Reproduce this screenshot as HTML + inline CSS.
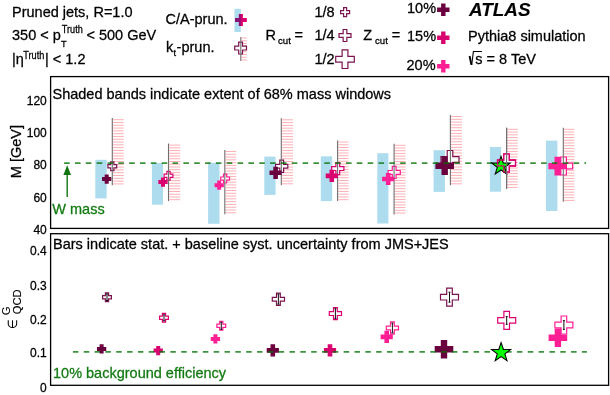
<!DOCTYPE html>
<html><head><meta charset="utf-8"><style>
html,body{margin:0;padding:0;background:#fff;}
body{width:610px;height:395px;overflow:hidden;position:relative;}
svg{position:absolute;left:0;top:0;will-change:transform;}
text{font-family:"Liberation Sans",sans-serif;stroke:currentColor;stroke-width:0.28px;}
</style></head><body>
<svg width="610" height="395" viewBox="0 0 610 395">
<rect x="95.30" y="159.80" width="11.40" height="38.60" fill="#addcee"/>
<g stroke="#ffb0b6" stroke-width="1"><line x1="112.80" y1="119.70" x2="123.70" y2="119.70"/><line x1="112.80" y1="122.49" x2="123.70" y2="122.49"/><line x1="112.80" y1="125.28" x2="123.70" y2="125.28"/><line x1="112.80" y1="128.07" x2="123.70" y2="128.07"/><line x1="112.80" y1="130.87" x2="123.70" y2="130.87"/><line x1="112.80" y1="133.66" x2="123.70" y2="133.66"/><line x1="112.80" y1="136.45" x2="123.70" y2="136.45"/><line x1="112.80" y1="139.24" x2="123.70" y2="139.24"/><line x1="112.80" y1="142.03" x2="123.70" y2="142.03"/><line x1="112.80" y1="144.82" x2="123.70" y2="144.82"/><line x1="112.80" y1="147.61" x2="123.70" y2="147.61"/><line x1="112.80" y1="150.40" x2="123.70" y2="150.40"/><line x1="112.80" y1="153.20" x2="123.70" y2="153.20"/><line x1="112.80" y1="155.99" x2="123.70" y2="155.99"/><line x1="112.80" y1="158.78" x2="123.70" y2="158.78"/><line x1="112.80" y1="161.57" x2="123.70" y2="161.57"/><line x1="112.80" y1="164.36" x2="123.70" y2="164.36"/><line x1="112.80" y1="167.15" x2="123.70" y2="167.15"/><line x1="112.80" y1="169.94" x2="123.70" y2="169.94"/><line x1="112.80" y1="172.73" x2="123.70" y2="172.73"/><line x1="112.80" y1="175.53" x2="123.70" y2="175.53"/><line x1="112.80" y1="178.32" x2="123.70" y2="178.32"/><line x1="112.80" y1="181.11" x2="123.70" y2="181.11"/><line x1="112.80" y1="183.90" x2="123.70" y2="183.90"/></g>
<rect x="151.90" y="163.10" width="11.10" height="41.60" fill="#addcee"/>
<g stroke="#ffb0b6" stroke-width="1"><line x1="169.00" y1="145.10" x2="180.30" y2="145.10"/><line x1="169.00" y1="147.83" x2="180.30" y2="147.83"/><line x1="169.00" y1="150.56" x2="180.30" y2="150.56"/><line x1="169.00" y1="153.29" x2="180.30" y2="153.29"/><line x1="169.00" y1="156.02" x2="180.30" y2="156.02"/><line x1="169.00" y1="158.75" x2="180.30" y2="158.75"/><line x1="169.00" y1="161.48" x2="180.30" y2="161.48"/><line x1="169.00" y1="164.21" x2="180.30" y2="164.21"/><line x1="169.00" y1="166.94" x2="180.30" y2="166.94"/><line x1="169.00" y1="169.67" x2="180.30" y2="169.67"/><line x1="169.00" y1="172.40" x2="180.30" y2="172.40"/><line x1="169.00" y1="175.13" x2="180.30" y2="175.13"/><line x1="169.00" y1="177.86" x2="180.30" y2="177.86"/><line x1="169.00" y1="180.59" x2="180.30" y2="180.59"/><line x1="169.00" y1="183.32" x2="180.30" y2="183.32"/><line x1="169.00" y1="186.05" x2="180.30" y2="186.05"/><line x1="169.00" y1="188.78" x2="180.30" y2="188.78"/><line x1="169.00" y1="191.51" x2="180.30" y2="191.51"/><line x1="169.00" y1="194.24" x2="180.30" y2="194.24"/><line x1="169.00" y1="196.97" x2="180.30" y2="196.97"/><line x1="169.00" y1="199.70" x2="180.30" y2="199.70"/></g>
<rect x="208.10" y="162.80" width="11.40" height="61.00" fill="#addcee"/>
<g stroke="#ffb0b6" stroke-width="1"><line x1="225.30" y1="151.50" x2="236.30" y2="151.50"/><line x1="225.30" y1="154.29" x2="236.30" y2="154.29"/><line x1="225.30" y1="157.07" x2="236.30" y2="157.07"/><line x1="225.30" y1="159.86" x2="236.30" y2="159.86"/><line x1="225.30" y1="162.65" x2="236.30" y2="162.65"/><line x1="225.30" y1="165.43" x2="236.30" y2="165.43"/><line x1="225.30" y1="168.22" x2="236.30" y2="168.22"/><line x1="225.30" y1="171.00" x2="236.30" y2="171.00"/><line x1="225.30" y1="173.79" x2="236.30" y2="173.79"/><line x1="225.30" y1="176.58" x2="236.30" y2="176.58"/><line x1="225.30" y1="179.36" x2="236.30" y2="179.36"/><line x1="225.30" y1="182.15" x2="236.30" y2="182.15"/><line x1="225.30" y1="184.94" x2="236.30" y2="184.94"/><line x1="225.30" y1="187.72" x2="236.30" y2="187.72"/><line x1="225.30" y1="190.51" x2="236.30" y2="190.51"/><line x1="225.30" y1="193.30" x2="236.30" y2="193.30"/><line x1="225.30" y1="196.08" x2="236.30" y2="196.08"/><line x1="225.30" y1="198.87" x2="236.30" y2="198.87"/><line x1="225.30" y1="201.65" x2="236.30" y2="201.65"/><line x1="225.30" y1="204.44" x2="236.30" y2="204.44"/><line x1="225.30" y1="207.23" x2="236.30" y2="207.23"/><line x1="225.30" y1="210.01" x2="236.30" y2="210.01"/><line x1="225.30" y1="212.80" x2="236.30" y2="212.80"/></g>
<rect x="264.30" y="156.60" width="11.30" height="38.30" fill="#addcee"/>
<g stroke="#ffb0b6" stroke-width="1"><line x1="281.80" y1="119.80" x2="293.00" y2="119.80"/><line x1="281.80" y1="122.58" x2="293.00" y2="122.58"/><line x1="281.80" y1="125.37" x2="293.00" y2="125.37"/><line x1="281.80" y1="128.15" x2="293.00" y2="128.15"/><line x1="281.80" y1="130.93" x2="293.00" y2="130.93"/><line x1="281.80" y1="133.71" x2="293.00" y2="133.71"/><line x1="281.80" y1="136.50" x2="293.00" y2="136.50"/><line x1="281.80" y1="139.28" x2="293.00" y2="139.28"/><line x1="281.80" y1="142.06" x2="293.00" y2="142.06"/><line x1="281.80" y1="144.84" x2="293.00" y2="144.84"/><line x1="281.80" y1="147.63" x2="293.00" y2="147.63"/><line x1="281.80" y1="150.41" x2="293.00" y2="150.41"/><line x1="281.80" y1="153.19" x2="293.00" y2="153.19"/><line x1="281.80" y1="155.97" x2="293.00" y2="155.97"/><line x1="281.80" y1="158.76" x2="293.00" y2="158.76"/><line x1="281.80" y1="161.54" x2="293.00" y2="161.54"/><line x1="281.80" y1="164.32" x2="293.00" y2="164.32"/><line x1="281.80" y1="167.10" x2="293.00" y2="167.10"/><line x1="281.80" y1="169.89" x2="293.00" y2="169.89"/><line x1="281.80" y1="172.67" x2="293.00" y2="172.67"/><line x1="281.80" y1="175.45" x2="293.00" y2="175.45"/><line x1="281.80" y1="178.23" x2="293.00" y2="178.23"/><line x1="281.80" y1="181.02" x2="293.00" y2="181.02"/><line x1="281.80" y1="183.80" x2="293.00" y2="183.80"/></g>
<rect x="320.80" y="156.30" width="11.40" height="44.80" fill="#addcee"/>
<g stroke="#ffb0b6" stroke-width="1"><line x1="338.10" y1="142.00" x2="348.60" y2="142.00"/><line x1="338.10" y1="144.75" x2="348.60" y2="144.75"/><line x1="338.10" y1="147.50" x2="348.60" y2="147.50"/><line x1="338.10" y1="150.24" x2="348.60" y2="150.24"/><line x1="338.10" y1="152.99" x2="348.60" y2="152.99"/><line x1="338.10" y1="155.74" x2="348.60" y2="155.74"/><line x1="338.10" y1="158.49" x2="348.60" y2="158.49"/><line x1="338.10" y1="161.23" x2="348.60" y2="161.23"/><line x1="338.10" y1="163.98" x2="348.60" y2="163.98"/><line x1="338.10" y1="166.73" x2="348.60" y2="166.73"/><line x1="338.10" y1="169.48" x2="348.60" y2="169.48"/><line x1="338.10" y1="172.22" x2="348.60" y2="172.22"/><line x1="338.10" y1="174.97" x2="348.60" y2="174.97"/><line x1="338.10" y1="177.72" x2="348.60" y2="177.72"/><line x1="338.10" y1="180.47" x2="348.60" y2="180.47"/><line x1="338.10" y1="183.21" x2="348.60" y2="183.21"/><line x1="338.10" y1="185.96" x2="348.60" y2="185.96"/><line x1="338.10" y1="188.71" x2="348.60" y2="188.71"/><line x1="338.10" y1="191.46" x2="348.60" y2="191.46"/><line x1="338.10" y1="194.20" x2="348.60" y2="194.20"/><line x1="338.10" y1="196.95" x2="348.60" y2="196.95"/><line x1="338.10" y1="199.70" x2="348.60" y2="199.70"/></g>
<rect x="377.30" y="153.20" width="11.10" height="70.30" fill="#addcee"/>
<g stroke="#ffb0b6" stroke-width="1"><line x1="394.60" y1="145.30" x2="405.50" y2="145.30"/><line x1="394.60" y1="148.01" x2="405.50" y2="148.01"/><line x1="394.60" y1="150.72" x2="405.50" y2="150.72"/><line x1="394.60" y1="153.42" x2="405.50" y2="153.42"/><line x1="394.60" y1="156.13" x2="405.50" y2="156.13"/><line x1="394.60" y1="158.84" x2="405.50" y2="158.84"/><line x1="394.60" y1="161.55" x2="405.50" y2="161.55"/><line x1="394.60" y1="164.26" x2="405.50" y2="164.26"/><line x1="394.60" y1="166.96" x2="405.50" y2="166.96"/><line x1="394.60" y1="169.67" x2="405.50" y2="169.67"/><line x1="394.60" y1="172.38" x2="405.50" y2="172.38"/><line x1="394.60" y1="175.09" x2="405.50" y2="175.09"/><line x1="394.60" y1="177.80" x2="405.50" y2="177.80"/><line x1="394.60" y1="180.50" x2="405.50" y2="180.50"/><line x1="394.60" y1="183.21" x2="405.50" y2="183.21"/><line x1="394.60" y1="185.92" x2="405.50" y2="185.92"/><line x1="394.60" y1="188.63" x2="405.50" y2="188.63"/><line x1="394.60" y1="191.34" x2="405.50" y2="191.34"/><line x1="394.60" y1="194.04" x2="405.50" y2="194.04"/><line x1="394.60" y1="196.75" x2="405.50" y2="196.75"/><line x1="394.60" y1="199.46" x2="405.50" y2="199.46"/><line x1="394.60" y1="202.17" x2="405.50" y2="202.17"/><line x1="394.60" y1="204.88" x2="405.50" y2="204.88"/><line x1="394.60" y1="207.58" x2="405.50" y2="207.58"/><line x1="394.60" y1="210.29" x2="405.50" y2="210.29"/><line x1="394.60" y1="213.00" x2="405.50" y2="213.00"/></g>
<rect x="433.60" y="150.20" width="11.40" height="41.70" fill="#addcee"/>
<g stroke="#ffb0b6" stroke-width="1"><line x1="450.90" y1="116.50" x2="462.00" y2="116.50"/><line x1="450.90" y1="119.30" x2="462.00" y2="119.30"/><line x1="450.90" y1="122.11" x2="462.00" y2="122.11"/><line x1="450.90" y1="124.91" x2="462.00" y2="124.91"/><line x1="450.90" y1="127.72" x2="462.00" y2="127.72"/><line x1="450.90" y1="130.52" x2="462.00" y2="130.52"/><line x1="450.90" y1="133.32" x2="462.00" y2="133.32"/><line x1="450.90" y1="136.13" x2="462.00" y2="136.13"/><line x1="450.90" y1="138.93" x2="462.00" y2="138.93"/><line x1="450.90" y1="141.74" x2="462.00" y2="141.74"/><line x1="450.90" y1="144.54" x2="462.00" y2="144.54"/><line x1="450.90" y1="147.35" x2="462.00" y2="147.35"/><line x1="450.90" y1="150.15" x2="462.00" y2="150.15"/><line x1="450.90" y1="152.95" x2="462.00" y2="152.95"/><line x1="450.90" y1="155.76" x2="462.00" y2="155.76"/><line x1="450.90" y1="158.56" x2="462.00" y2="158.56"/><line x1="450.90" y1="161.37" x2="462.00" y2="161.37"/><line x1="450.90" y1="164.17" x2="462.00" y2="164.17"/><line x1="450.90" y1="166.97" x2="462.00" y2="166.97"/><line x1="450.90" y1="169.78" x2="462.00" y2="169.78"/><line x1="450.90" y1="172.58" x2="462.00" y2="172.58"/><line x1="450.90" y1="175.39" x2="462.00" y2="175.39"/><line x1="450.90" y1="178.19" x2="462.00" y2="178.19"/><line x1="450.90" y1="181.00" x2="462.00" y2="181.00"/><line x1="450.90" y1="183.80" x2="462.00" y2="183.80"/></g>
<rect x="489.90" y="147.00" width="11.20" height="44.70" fill="#addcee"/>
<g stroke="#ffb0b6" stroke-width="1"><line x1="507.10" y1="129.30" x2="517.80" y2="129.30"/><line x1="507.10" y1="132.07" x2="517.80" y2="132.07"/><line x1="507.10" y1="134.83" x2="517.80" y2="134.83"/><line x1="507.10" y1="137.60" x2="517.80" y2="137.60"/><line x1="507.10" y1="140.37" x2="517.80" y2="140.37"/><line x1="507.10" y1="143.13" x2="517.80" y2="143.13"/><line x1="507.10" y1="145.90" x2="517.80" y2="145.90"/><line x1="507.10" y1="148.67" x2="517.80" y2="148.67"/><line x1="507.10" y1="151.43" x2="517.80" y2="151.43"/><line x1="507.10" y1="154.20" x2="517.80" y2="154.20"/><line x1="507.10" y1="156.97" x2="517.80" y2="156.97"/><line x1="507.10" y1="159.73" x2="517.80" y2="159.73"/><line x1="507.10" y1="162.50" x2="517.80" y2="162.50"/><line x1="507.10" y1="165.27" x2="517.80" y2="165.27"/><line x1="507.10" y1="168.03" x2="517.80" y2="168.03"/><line x1="507.10" y1="170.80" x2="517.80" y2="170.80"/><line x1="507.10" y1="173.57" x2="517.80" y2="173.57"/><line x1="507.10" y1="176.33" x2="517.80" y2="176.33"/><line x1="507.10" y1="179.10" x2="517.80" y2="179.10"/><line x1="507.10" y1="181.87" x2="517.80" y2="181.87"/><line x1="507.10" y1="184.63" x2="517.80" y2="184.63"/><line x1="507.10" y1="187.40" x2="517.80" y2="187.40"/></g>
<rect x="546.00" y="140.60" width="11.40" height="70.40" fill="#addcee"/>
<g stroke="#ffb0b6" stroke-width="1"><line x1="563.80" y1="129.30" x2="574.40" y2="129.30"/><line x1="563.80" y1="132.03" x2="574.40" y2="132.03"/><line x1="563.80" y1="134.77" x2="574.40" y2="134.77"/><line x1="563.80" y1="137.50" x2="574.40" y2="137.50"/><line x1="563.80" y1="140.24" x2="574.40" y2="140.24"/><line x1="563.80" y1="142.97" x2="574.40" y2="142.97"/><line x1="563.80" y1="145.71" x2="574.40" y2="145.71"/><line x1="563.80" y1="148.44" x2="574.40" y2="148.44"/><line x1="563.80" y1="151.18" x2="574.40" y2="151.18"/><line x1="563.80" y1="153.91" x2="574.40" y2="153.91"/><line x1="563.80" y1="156.65" x2="574.40" y2="156.65"/><line x1="563.80" y1="159.38" x2="574.40" y2="159.38"/><line x1="563.80" y1="162.12" x2="574.40" y2="162.12"/><line x1="563.80" y1="164.85" x2="574.40" y2="164.85"/><line x1="563.80" y1="167.58" x2="574.40" y2="167.58"/><line x1="563.80" y1="170.32" x2="574.40" y2="170.32"/><line x1="563.80" y1="173.05" x2="574.40" y2="173.05"/><line x1="563.80" y1="175.79" x2="574.40" y2="175.79"/><line x1="563.80" y1="178.52" x2="574.40" y2="178.52"/><line x1="563.80" y1="181.26" x2="574.40" y2="181.26"/><line x1="563.80" y1="183.99" x2="574.40" y2="183.99"/><line x1="563.80" y1="186.73" x2="574.40" y2="186.73"/><line x1="563.80" y1="189.46" x2="574.40" y2="189.46"/><line x1="563.80" y1="192.20" x2="574.40" y2="192.20"/><line x1="563.80" y1="194.93" x2="574.40" y2="194.93"/><line x1="563.80" y1="197.67" x2="574.40" y2="197.67"/><line x1="563.80" y1="200.40" x2="574.40" y2="200.40"/></g>
<polygon points="110.70,161.80 113.90,161.80 113.90,164.60 116.70,164.60 116.70,167.80 113.90,167.80 113.90,170.60 110.70,170.60 110.70,167.80 107.90,167.80 107.90,164.60 110.70,164.60" fill="rgba(255,255,255,0.85)" stroke="#7a1350" stroke-width="1.20" stroke-linejoin="miter"/>
<line x1="112.30" y1="118.10" x2="112.30" y2="185.30" stroke="#707070" stroke-width="1.1"/>
<polygon points="104.70,174.45 108.70,174.45 108.70,177.10 111.35,177.10 111.35,181.10 108.70,181.10 108.70,183.75 104.70,183.75 104.70,181.10 102.05,181.10 102.05,177.10 104.70,177.10" fill="#6a003e"/>
<polygon points="166.90,171.40 170.10,171.40 170.10,174.20 172.90,174.20 172.90,177.40 170.10,177.40 170.10,180.20 166.90,180.20 166.90,177.40 164.10,177.40 164.10,174.20 166.90,174.20" fill="rgba(255,255,255,0.85)" stroke="#d9036f" stroke-width="1.20" stroke-linejoin="miter"/>
<line x1="168.50" y1="143.50" x2="168.50" y2="201.10" stroke="#707070" stroke-width="1.1"/>
<polygon points="161.00,177.45 165.00,177.45 165.00,180.10 167.65,180.10 167.65,184.10 165.00,184.10 165.00,186.75 161.00,186.75 161.00,184.10 158.35,184.10 158.35,180.10 161.00,180.10" fill="#d9036f"/>
<polygon points="223.50,174.20 226.70,174.20 226.70,177.00 229.50,177.00 229.50,180.20 226.70,180.20 226.70,183.00 223.50,183.00 223.50,180.20 220.70,180.20 220.70,177.00 223.50,177.00" fill="rgba(255,255,255,0.85)" stroke="#ff1f95" stroke-width="1.20" stroke-linejoin="miter"/>
<line x1="224.80" y1="149.90" x2="224.80" y2="214.20" stroke="#707070" stroke-width="1.1"/>
<polygon points="217.20,180.55 221.20,180.55 221.20,183.20 223.85,183.20 223.85,187.20 221.20,187.20 221.20,189.85 217.20,189.85 217.20,187.20 214.55,187.20 214.55,183.20 217.20,183.20" fill="#ff1f95"/>
<polygon points="279.80,160.10 283.60,160.10 283.60,164.30 287.80,164.30 287.80,168.10 283.60,168.10 283.60,172.30 279.80,172.30 279.80,168.10 275.60,168.10 275.60,164.30 279.80,164.30" fill="rgba(255,255,255,0.85)" stroke="#7a1350" stroke-width="1.20" stroke-linejoin="miter"/>
<line x1="281.30" y1="118.20" x2="281.30" y2="185.20" stroke="#707070" stroke-width="1.1"/>
<polygon points="273.30,166.70 277.90,166.70 277.90,170.50 281.70,170.50 281.70,175.10 277.90,175.10 277.90,178.90 273.30,178.90 273.30,175.10 269.50,175.10 269.50,170.50 273.30,170.50" fill="#6a003e"/>
<polygon points="335.90,162.50 339.70,162.50 339.70,166.70 343.90,166.70 343.90,170.50 339.70,170.50 339.70,174.70 335.90,174.70 335.90,170.50 331.70,170.50 331.70,166.70 335.90,166.70" fill="rgba(255,255,255,0.85)" stroke="#d9036f" stroke-width="1.20" stroke-linejoin="miter"/>
<line x1="337.60" y1="140.40" x2="337.60" y2="201.10" stroke="#707070" stroke-width="1.1"/>
<polygon points="329.50,169.80 334.10,169.80 334.10,173.60 337.90,173.60 337.90,178.20 334.10,178.20 334.10,182.00 329.50,182.00 329.50,178.20 325.70,178.20 325.70,173.60 329.50,173.60" fill="#d9036f"/>
<polygon points="392.30,166.30 396.10,166.30 396.10,170.50 400.30,170.50 400.30,174.30 396.10,174.30 396.10,178.50 392.30,178.50 392.30,174.30 388.10,174.30 388.10,170.50 392.30,170.50" fill="rgba(255,255,255,0.85)" stroke="#ff1f95" stroke-width="1.20" stroke-linejoin="miter"/>
<line x1="394.10" y1="143.70" x2="394.10" y2="214.40" stroke="#707070" stroke-width="1.1"/>
<polygon points="385.90,172.90 390.50,172.90 390.50,176.70 394.30,176.70 394.30,181.30 390.50,181.30 390.50,185.10 385.90,185.10 385.90,181.30 382.10,181.30 382.10,176.70 385.90,176.70" fill="#ff1f95"/>
<polygon points="447.20,150.50 452.80,150.50 452.80,156.70 459.00,156.70 459.00,162.30 452.80,162.30 452.80,168.50 447.20,168.50 447.20,162.30 441.00,162.30 441.00,156.70 447.20,156.70" fill="rgba(255,255,255,0.85)" stroke="#7a1350" stroke-width="1.20" stroke-linejoin="miter"/>
<line x1="450.40" y1="114.90" x2="450.40" y2="185.20" stroke="#707070" stroke-width="1.1"/>
<polygon points="441.50,156.40 447.90,156.40 447.90,162.50 454.00,162.50 454.00,168.90 447.90,168.90 447.90,175.00 441.50,175.00 441.50,168.90 435.40,168.90 435.40,162.50 441.50,162.50" fill="#6a003e"/>
<polygon points="503.70,154.00 509.30,154.00 509.30,160.20 515.50,160.20 515.50,165.80 509.30,165.80 509.30,172.00 503.70,172.00 503.70,165.80 497.50,165.80 497.50,160.20 503.70,160.20" fill="rgba(255,255,255,0.85)" stroke="#d9036f" stroke-width="1.20" stroke-linejoin="miter"/>
<line x1="506.60" y1="127.70" x2="506.60" y2="188.80" stroke="#707070" stroke-width="1.1"/>
<polygon points="560.80,157.00 566.40,157.00 566.40,163.20 572.60,163.20 572.60,168.80 566.40,168.80 566.40,175.00 560.80,175.00 560.80,168.80 554.60,168.80 554.60,163.20 560.80,163.20" fill="rgba(255,255,255,0.85)" stroke="#ff1f95" stroke-width="1.20" stroke-linejoin="miter"/>
<line x1="563.30" y1="127.70" x2="563.30" y2="201.80" stroke="#707070" stroke-width="1.1"/>
<polygon points="554.50,156.80 560.90,156.80 560.90,162.90 567.00,162.90 567.00,169.30 560.90,169.30 560.90,175.40 554.50,175.40 554.50,169.30 548.40,169.30 548.40,162.90 554.50,162.90" fill="#ff1f95"/>
<line x1="64.1" y1="163.1" x2="586.1" y2="163.1" stroke="rgba(0,112,0,0.76)" stroke-width="1.6" stroke-dasharray="5.6 5.24"/>
<polygon points="503.70,154.00 509.30,154.00 509.30,160.20 515.50,160.20 515.50,165.80 509.30,165.80 509.30,172.00 503.70,172.00 503.70,165.80 497.50,165.80 497.50,160.20 503.70,160.20" fill="#fff" stroke="#d9036f" stroke-width="1.20" stroke-linejoin="miter"/>
<polygon points="501.00,156.40 503.29,162.94 510.23,163.10 504.71,167.31 506.70,173.95 501.00,170.00 495.30,173.95 497.29,167.31 491.77,163.10 498.71,162.94" fill="#00ff00" stroke="#000" stroke-width="1.1" stroke-linejoin="miter"/>
<polygon points="503.70,154.00 509.30,154.00 509.30,160.20 515.50,160.20 515.50,165.80 509.30,165.80 509.30,172.00 503.70,172.00 503.70,165.80 497.50,165.80 497.50,160.20 503.70,160.20" fill="none" stroke="#d9036f" stroke-width="1.20" stroke-linejoin="miter"/>
<line x1="506.60" y1="127.70" x2="506.60" y2="188.80" stroke="#707070" stroke-width="1.1"/>
<polygon points="105.40,292.80 108.60,292.80 108.60,295.60 111.40,295.60 111.40,298.80 108.60,298.80 108.60,301.60 105.40,301.60 105.40,298.80 102.60,298.80 102.60,295.60 105.40,295.60" fill="#fff" stroke="#7a1350" stroke-width="1.20" stroke-linejoin="miter"/>
<g stroke="#111" stroke-width="1"><line x1="107.00" y1="293.90" x2="107.00" y2="300.50"/><line x1="106.00" y1="293.90" x2="108.00" y2="293.90"/><line x1="106.00" y1="300.50" x2="108.00" y2="300.50"/></g>
<polygon points="99.60,344.25 103.60,344.25 103.60,346.90 106.25,346.90 106.25,350.90 103.60,350.90 103.60,353.55 99.60,353.55 99.60,350.90 96.95,350.90 96.95,346.90 99.60,346.90" fill="#6a003e"/>
<polygon points="162.40,313.40 165.60,313.40 165.60,316.20 168.40,316.20 168.40,319.40 165.60,319.40 165.60,322.20 162.40,322.20 162.40,319.40 159.60,319.40 159.60,316.20 162.40,316.20" fill="#fff" stroke="#d9036f" stroke-width="1.20" stroke-linejoin="miter"/>
<g stroke="#111" stroke-width="1"><line x1="164.00" y1="314.80" x2="164.00" y2="320.80"/><line x1="163.00" y1="314.80" x2="165.00" y2="314.80"/><line x1="163.00" y1="320.80" x2="165.00" y2="320.80"/></g>
<polygon points="156.20,345.95 160.20,345.95 160.20,348.60 162.85,348.60 162.85,352.60 160.20,352.60 160.20,355.25 156.20,355.25 156.20,352.60 153.55,352.60 153.55,348.60 156.20,348.60" fill="#d9036f"/>
<polygon points="219.70,321.40 222.90,321.40 222.90,324.20 225.70,324.20 225.70,327.40 222.90,327.40 222.90,330.20 219.70,330.20 219.70,327.40 216.90,327.40 216.90,324.20 219.70,324.20" fill="#fff" stroke="#ff1f95" stroke-width="1.20" stroke-linejoin="miter"/>
<g stroke="#111" stroke-width="1"><line x1="221.30" y1="322.30" x2="221.30" y2="329.30"/><line x1="220.30" y1="322.30" x2="222.30" y2="322.30"/><line x1="220.30" y1="329.30" x2="222.30" y2="329.30"/></g>
<polygon points="213.40,334.25 217.40,334.25 217.40,336.90 220.05,336.90 220.05,340.90 217.40,340.90 217.40,343.55 213.40,343.55 213.40,340.90 210.75,340.90 210.75,336.90 213.40,336.90" fill="#ff1f95"/>
<polygon points="276.50,293.10 280.30,293.10 280.30,297.30 284.50,297.30 284.50,301.10 280.30,301.10 280.30,305.30 276.50,305.30 276.50,301.10 272.30,301.10 272.30,297.30 276.50,297.30" fill="#fff" stroke="#7a1350" stroke-width="1.20" stroke-linejoin="miter"/>
<g stroke="#111" stroke-width="1"><line x1="278.40" y1="294.20" x2="278.40" y2="304.20"/><line x1="277.40" y1="294.20" x2="279.40" y2="294.20"/><line x1="277.40" y1="304.20" x2="279.40" y2="304.20"/></g>
<polygon points="270.50,344.30 275.10,344.30 275.10,348.10 278.90,348.10 278.90,352.70 275.10,352.70 275.10,356.50 270.50,356.50 270.50,352.70 266.70,352.70 266.70,348.10 270.50,348.10" fill="#6a003e"/>
<polygon points="333.50,307.50 337.30,307.50 337.30,311.70 341.50,311.70 341.50,315.50 337.30,315.50 337.30,319.70 333.50,319.70 333.50,315.50 329.30,315.50 329.30,311.70 333.50,311.70" fill="#fff" stroke="#d9036f" stroke-width="1.20" stroke-linejoin="miter"/>
<g stroke="#111" stroke-width="1"><line x1="335.40" y1="308.60" x2="335.40" y2="318.60"/><line x1="334.40" y1="308.60" x2="336.40" y2="308.60"/><line x1="334.40" y1="318.60" x2="336.40" y2="318.60"/></g>
<polygon points="327.70,344.30 332.30,344.30 332.30,348.10 336.10,348.10 336.10,352.70 332.30,352.70 332.30,356.50 327.70,356.50 327.70,352.70 323.90,352.70 323.90,348.10 327.70,348.10" fill="#d9036f"/>
<polygon points="390.50,321.90 394.30,321.90 394.30,326.10 398.50,326.10 398.50,329.90 394.30,329.90 394.30,334.10 390.50,334.10 390.50,329.90 386.30,329.90 386.30,326.10 390.50,326.10" fill="#fff" stroke="#ff1f95" stroke-width="1.20" stroke-linejoin="miter"/>
<g stroke="#111" stroke-width="1"><line x1="392.40" y1="323.10" x2="392.40" y2="332.90"/><line x1="391.40" y1="323.10" x2="393.40" y2="323.10"/><line x1="391.40" y1="332.90" x2="393.40" y2="332.90"/></g>
<polygon points="384.40,330.80 389.00,330.80 389.00,334.60 392.80,334.60 392.80,339.20 389.00,339.20 389.00,343.00 384.40,343.00 384.40,339.20 380.60,339.20 380.60,334.60 384.40,334.60" fill="#ff1f95"/>
<polygon points="446.70,288.20 452.30,288.20 452.30,294.40 458.50,294.40 458.50,300.00 452.30,300.00 452.30,306.20 446.70,306.20 446.70,300.00 440.50,300.00 440.50,294.40 446.70,294.40" fill="#fff" stroke="#7a1350" stroke-width="1.20" stroke-linejoin="miter"/>
<g stroke="#111" stroke-width="1"><line x1="449.50" y1="292.20" x2="449.50" y2="302.20"/><line x1="448.50" y1="292.20" x2="450.50" y2="292.20"/><line x1="448.50" y1="302.20" x2="450.50" y2="302.20"/></g>
<polygon points="440.80,339.90 447.20,339.90 447.20,346.00 453.30,346.00 453.30,352.40 447.20,352.40 447.20,358.50 440.80,358.50 440.80,352.40 434.70,352.40 434.70,346.00 440.80,346.00" fill="#6a003e"/>
<polygon points="503.90,311.40 509.50,311.40 509.50,317.60 515.70,317.60 515.70,323.20 509.50,323.20 509.50,329.40 503.90,329.40 503.90,323.20 497.70,323.20 497.70,317.60 503.90,317.60" fill="#fff" stroke="#d9036f" stroke-width="1.20" stroke-linejoin="miter"/>
<g stroke="#111" stroke-width="1"><line x1="506.70" y1="316.50" x2="506.70" y2="324.30"/><line x1="505.70" y1="316.50" x2="507.70" y2="316.50"/><line x1="505.70" y1="324.30" x2="507.70" y2="324.30"/></g>
<polygon points="561.10,316.00 566.70,316.00 566.70,322.20 572.90,322.20 572.90,327.80 566.70,327.80 566.70,334.00 561.10,334.00 561.10,327.80 554.90,327.80 554.90,322.20 561.10,322.20" fill="#fff" stroke="#ff1f95" stroke-width="1.20" stroke-linejoin="miter"/>
<g stroke="#111" stroke-width="1"><line x1="563.90" y1="320.60" x2="563.90" y2="329.40"/><line x1="562.90" y1="320.60" x2="564.90" y2="320.60"/><line x1="562.90" y1="329.40" x2="564.90" y2="329.40"/></g>
<polygon points="554.70,328.40 561.10,328.40 561.10,334.50 567.20,334.50 567.20,340.90 561.10,340.90 561.10,347.00 554.70,347.00 554.70,340.90 548.60,340.90 548.60,334.50 554.70,334.50" fill="#ff1f95"/>
<line x1="72.9" y1="351.9" x2="586.9" y2="351.9" stroke="rgba(0,112,0,0.76)" stroke-width="1.6" stroke-dasharray="5.5 5.33"/>
<polygon points="501.10,342.60 503.45,349.36 510.61,349.51 504.90,353.84 506.98,360.69 501.10,356.60 495.22,360.69 497.30,353.84 491.59,349.51 498.75,349.36" fill="#00ff00" stroke="#000" stroke-width="1.1" stroke-linejoin="miter"/>
<rect x="50.6" y="76.6" width="558" height="151.8" fill="none" stroke="#000" stroke-width="1.3"/>
<rect x="50.6" y="233.7" width="558" height="151.6" fill="none" stroke="#000" stroke-width="1.3"/>
<line x1="67.2" y1="197" x2="67.2" y2="173" stroke="#107410" stroke-width="1.4"/>
<polygon points="67.2,165.2 71,175 63.4,175" fill="#107410"/>
<text x="12" y="16.7" font-size="14.5">Pruned jets, R=1.0</text>
<text x="12" y="39.8" font-size="14.5">350 &lt; p</text>
<text x="61.8" y="33.3" font-size="10.1" textLength="21.0" lengthAdjust="spacingAndGlyphs">Truth</text>
<text x="61" y="46.7" font-size="9.2">T</text>
<text x="86.5" y="39.8" font-size="14.5">&lt; 500 GeV</text>
<text x="12" y="64.3" font-size="14.5">|&#951;</text>
<text x="23.3" y="58.9" font-size="10.1" textLength="21.0" lengthAdjust="spacingAndGlyphs">Truth</text>
<text x="45" y="64.3" font-size="14.5">| &lt; 1.2</text>
<text x="165.5" y="23.6" font-size="14.5">C/A-prun.</text>
<text x="166" y="51.6" font-size="14.5">k</text>
<text x="173.4" y="55.6" font-size="9.2">t</text>
<text x="176.6" y="51.6" font-size="14.5">-prun.</text>
<text x="265.5" y="39.7" font-size="14.5">R</text>
<text x="278" y="43.6" font-size="9.6">cut</text>
<text x="294.5" y="39.7" font-size="14.5">=</text>
<text x="314.5" y="16.8" font-size="14.5">1/8</text>
<text x="314.5" y="39.6" font-size="14.5">1/4</text>
<text x="314.5" y="63.9" font-size="14.5">1/2</text>
<text x="363.3" y="40.2" font-size="14.5">Z</text>
<text x="375" y="43.6" font-size="9.6">cut</text>
<text x="391.8" y="40.2" font-size="14.5">=</text>
<text x="407" y="12.8" font-size="14.5">10%</text>
<text x="407" y="41.2" font-size="14.5">15%</text>
<text x="406.5" y="69.6" font-size="14.5">20%</text>
<text x="469.0" y="16.4" font-size="18.9" font-weight="bold" font-style="italic" style="stroke-width:0.1px">ATLAS</text>
<text x="468" y="40.8" font-size="14.5">Pythia8 simulation</text>
<text x="475.3" y="64.0" font-size="14.5">s = 8 TeV</text>
<path d="M471.7,64.9 L473.4,51.5 L481.9,51.5" fill="none" stroke="#000" stroke-width="1.1" stroke-linejoin="miter"/>
<path d="M469.6,56.0 L471.4,64.9" fill="none" stroke="#000" stroke-width="1.9"/>
<rect x="234.5" y="8.8" width="6.3" height="23.2" fill="#addcee"/>
<polygon points="238.90,14.10 242.90,14.10 242.90,18.00 246.80,18.00 246.80,22.00 242.90,22.00 242.90,25.90 238.90,25.90 238.90,22.00 235.00,22.00 235.00,18.00 238.90,18.00" fill="#d9036f"/>
<clipPath id="lc"><rect x="234.5" y="8.8" width="6.3" height="23.2"/></clipPath>
<polygon points="238.90,14.10 242.90,14.10 242.90,18.00 246.80,18.00 246.80,22.00 242.90,22.00 242.90,25.90 238.90,25.90 238.90,22.00 235.00,22.00 235.00,18.00 238.90,18.00" fill="#8c1274" clip-path="url(#lc)"/>
<g stroke="#ffb0b6" stroke-width="1"><line x1="241.30" y1="38.00" x2="246.80" y2="38.00"/><line x1="241.30" y1="40.75" x2="246.80" y2="40.75"/><line x1="241.30" y1="43.50" x2="246.80" y2="43.50"/><line x1="241.30" y1="46.25" x2="246.80" y2="46.25"/><line x1="241.30" y1="49.00" x2="246.80" y2="49.00"/><line x1="241.30" y1="51.75" x2="246.80" y2="51.75"/><line x1="241.30" y1="54.50" x2="246.80" y2="54.50"/><line x1="241.30" y1="57.25" x2="246.80" y2="57.25"/><line x1="241.30" y1="60.00" x2="246.80" y2="60.00"/></g>
<polygon points="238.70,42.20 242.50,42.20 242.50,46.20 246.50,46.20 246.50,50.00 242.50,50.00 242.50,54.00 238.70,54.00 238.70,50.00 234.70,50.00 234.70,46.20 238.70,46.20" fill="rgba(255,255,255,0.85)" stroke="#7a1350" stroke-width="1.20" stroke-linejoin="miter"/>
<line x1="240.8" y1="36.9" x2="240.8" y2="60.9" stroke="#707070" stroke-width="1.1"/>
<polygon points="343.60,7.70 346.60,7.70 346.60,10.70 349.60,10.70 349.60,13.70 346.60,13.70 346.60,16.70 343.60,16.70 343.60,13.70 340.60,13.70 340.60,10.70 343.60,10.70" fill="#fff" stroke="#7a1350" stroke-width="1.20" stroke-linejoin="miter"/>
<polygon points="343.15,29.50 346.85,29.50 346.85,33.65 351.00,33.65 351.00,37.35 346.85,37.35 346.85,41.50 343.15,41.50 343.15,37.35 339.00,37.35 339.00,33.65 343.15,33.65" fill="#fff" stroke="#7a1350" stroke-width="1.20" stroke-linejoin="miter"/>
<polygon points="342.10,49.90 347.90,49.90 347.90,56.30 354.30,56.30 354.30,62.10 347.90,62.10 347.90,68.50 342.10,68.50 342.10,62.10 335.70,62.10 335.70,56.30 342.10,56.30" fill="#fff" stroke="#7a1350" stroke-width="1.20" stroke-linejoin="miter"/>
<polygon points="441.10,3.60 445.50,3.60 445.50,7.60 449.50,7.60 449.50,12.00 445.50,12.00 445.50,16.00 441.10,16.00 441.10,12.00 437.10,12.00 437.10,7.60 441.10,7.60" fill="#6a003e"/>
<polygon points="441.10,31.60 445.50,31.60 445.50,35.60 449.50,35.60 449.50,40.00 445.50,40.00 445.50,44.00 441.10,44.00 441.10,40.00 437.10,40.00 437.10,35.60 441.10,35.60" fill="#d9036f"/>
<polygon points="441.10,60.00 445.50,60.00 445.50,64.00 449.50,64.00 449.50,68.40 445.50,68.40 445.50,72.40 441.10,72.40 441.10,68.40 437.10,68.40 437.10,64.00 441.10,64.00" fill="#ff1f95"/>
<text x="52.5" y="99.1" font-size="14.5">Shaded bands indicate extent of 68% mass windows</text>
<text x="53" y="248.5" font-size="14.5">Bars indicate stat. + baseline syst. uncertainty from JMS+JES</text>
<text x="53" y="377.9" font-size="14.5" style="fill:#127a12;stroke:#127a12">10% background efficiency</text>
<text x="52.3" y="213.9" font-size="14.5" style="fill:#127a12;stroke:#127a12">W mass</text>
<text x="46.8" y="105.4" font-size="12.0" text-anchor="end">120</text>
<text x="46.8" y="136.8" font-size="12.0" text-anchor="end">100</text>
<text x="46.8" y="169.4" font-size="12.0" text-anchor="end">80</text>
<text x="46.8" y="202.1" font-size="12.0" text-anchor="end">60</text>
<text x="46.8" y="233.8" font-size="12.0" text-anchor="end">40</text>
<text x="46.8" y="255.2" font-size="12.0" text-anchor="end">0.4</text>
<text x="46.8" y="290.0" font-size="12.0" text-anchor="end">0.3</text>
<text x="46.8" y="323.6" font-size="12.0" text-anchor="end">0.2</text>
<text x="46.8" y="357.2" font-size="12.0" text-anchor="end">0.1</text>
<text x="46.8" y="392.0" font-size="12.0" text-anchor="end">0</text>
<text transform="translate(21.3,151.6) rotate(-90)" font-size="14.5" text-anchor="middle">M [GeV]</text>
<text transform="translate(16.5,328.6) rotate(-90) scale(0.85,1)" font-size="12.5" style="stroke-width:0.05px">&#8712;</text>
<text transform="translate(9.6,315.2) rotate(-90)" font-size="11.4" style="stroke-width:0.05px">G</text>
<text transform="translate(20.6,314.2) rotate(-90)" font-size="11.2" style="stroke-width:0.15px">QCD</text>
</svg>
</body></html>
